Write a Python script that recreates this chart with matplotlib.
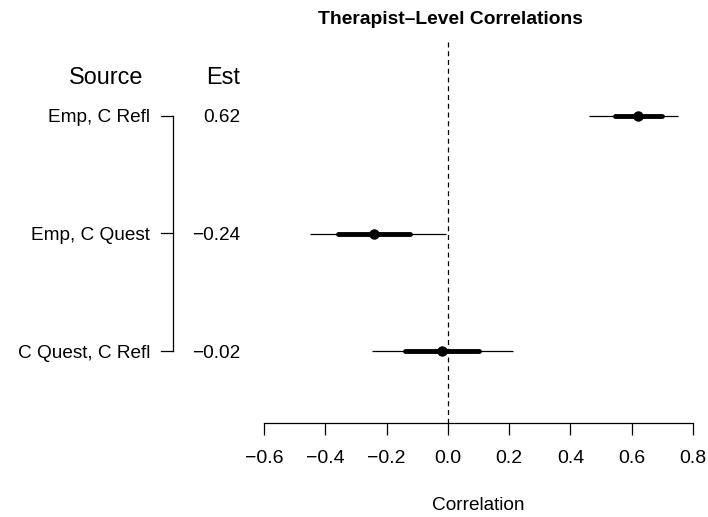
import numpy as np
import matplotlib.pyplot as plt

plt.rcParams['font.family'] = ['Liberation Sans', 'DejaVu Sans']

# data
sources = ["Emp, C Refl", "Emp, C Quest", "C Quest, C Refl"]
est = [0.62, -0.24, -0.02]
est_labels = ["0.62", "\u22120.24", "\u22120.02"]
lo_outer = [0.46, -0.45, -0.246]
hi_outer = [0.75, -0.005, 0.211]
lo_inner = [0.547, -0.357, -0.141]
hi_inner = [0.70, -0.123, 0.103]
xticks = [-0.6, -0.4, -0.2, 0.0, 0.2, 0.4, 0.6, 0.8]

W, H = 708, 517
fig = plt.figure(figsize=(W / 100, H / 100), dpi=100)

# axes spans the x range -0.6..0.8 horizontally, full height vertically
x0, x1 = 264, 693
ax = fig.add_axes([x0 / W, 0, (x1 - x0) / W, 1])
ax.set_xlim(-0.6, 0.8)
row_top, row_step = 116, 117.5
ax.set_ylim((H - row_top) / row_step, -row_top / row_step)
ax.patch.set_alpha(0)


def py(p):
    # figure pixel (from top) -> row units
    return (p - row_top) / row_step


rows = np.arange(len(sources))
ax.hlines(rows, lo_outer, hi_outer, color='black', lw=0.9)
ax.hlines(rows, lo_inner, hi_inner, color='black', lw=3.5, capstyle='round')
ax.plot(est, rows, 'o', color='black', ms=6.5)

ax.vlines(0, py(42), py(423), color='black', lw=0.9, linestyles=(0, (4, 3)))

for s in ['top', 'right', 'left']:
    ax.spines[s].set_visible(False)
ax.spines['bottom'].set_position(('data', py(423)))
ax.spines['bottom'].set_linewidth(0.9)
ax.set_yticks([])
ax.set_xticks(xticks)
ax.set_xticklabels([f"{t:.1f}".replace("-", "\u2212") for t in xticks], fontsize=14)
ax.tick_params(axis='x', direction='out', length=8.5, width=0.9, pad=11)

fig.text((x0 + x1) / 2 / W, 1 - 506 / H, "Correlation", ha='center', va='center', fontsize=13.7)
fig.text(450 / W, 1 - 20 / H, "Therapist\u2013Level Correlations", ha='center', va='center',
         fontsize=13.9, fontweight='bold')

# left-hand table
fig.text(143 / W, 1 - 78 / H, "Source", ha='right', va='center', fontsize=16.8)
fig.text(240 / W, 1 - 78 / H, "Est", ha='right', va='center', fontsize=16.8)
for i, (s, e) in enumerate(zip(sources, est_labels)):
    yy = 1 - (row_top + row_step * i) / H
    fig.text(150 / W, yy - 2 / H, s, ha='right', va='center', fontsize=13.7)
    fig.text(240 / W, yy - 2 / H, e, ha='right', va='center', fontsize=13.7)
    fig.add_artist(plt.Line2D([161 / W, 172.5 / W], [yy, yy], color='black', lw=0.9))
fig.add_artist(plt.Line2D([172.5 / W, 172.5 / W],
                          [1 - row_top / H, 1 - (row_top + row_step * 2) / H], color='black', lw=0.9))

fig.savefig("out.png", dpi=100)
